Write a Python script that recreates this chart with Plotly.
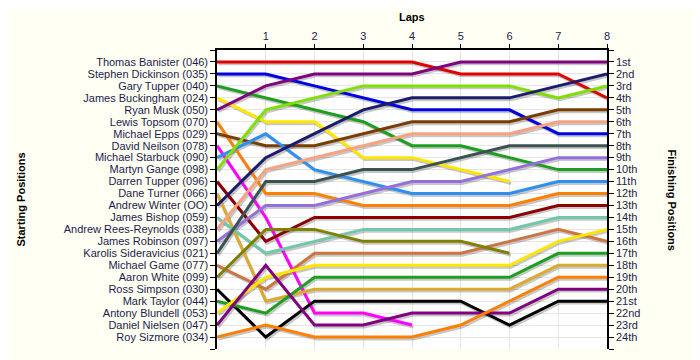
import plotly.graph_objects as go

laps = [0, 1, 2, 3, 4, 5, 6, 7, 8]

drivers = [
    "Thomas Banister (046)", "Stephen Dickinson (035)", "Gary Tupper (040)",
    "James Buckingham (024)", "Ryan Musk (050)", "Lewis Topsom (070)",
    "Michael Epps (029)", "David Neilson (078)", "Michael Starbuck (090)",
    "Martyn Gange (098)", "Darren Tupper (096)", "Dane Turner (066)",
    "Andrew Winter (OO)", "James Bishop (059)", "Andrew Rees-Reynolds (038)",
    "James Robinson (097)", "Karolis Sideravicius (021)", "Michael Game (077)",
    "Aaron White (099)", "Ross Simpson (030)", "Mark Taylor (044)",
    "Antony Blundell (053)", "Daniel Nielsen (047)", "Roy Sizmore (034)",
]

# position of each driver (in starting order) at the end of each lap
positions = [
    [1, 1, 1, 1, 1, 2, 2, 2, 4],
    [2, 2, 3, 4, 5, 5, 5, 7, 7],
    [3, 4, 5, 6, 8, 8, 9, 10, 10],
    [4, 6, 6, 9, 9, 10, 11],
    [5, 3, 2, 2, 2, 1, 1, 1, 1],
    [6, 12, 12, 13, 13, 13, 13, 12, 12],
    [7, 8, 8, 7, 6, 6, 6, 5, 5],
    [8, 14, 22, 22, 23],
    [9, 7, 10, 11, 12, 12, 12, 11, 11],
    [10, 5, 4, 3, 3, 3, 3, 4, 3],
    [11, 16, 14, 14, 14, 14, 14, 13, 13],
    [12, 21, 20, 20, 20, 20, 20, 18, 18],
    [13, 9, 7, 5, 4, 4, 4, 3, 2],
    [14, 17, 16, 15, 15, 15, 15, 14, 14],
    [15, 10, 9, 8, 7, 7, 7, 6, 6],
    [16, 13, 13, 12, 11, 11, 10, 9, 9],
    [17, 11, 11, 10, 10, 9, 8, 8, 8],
    [18, 20, 17, 17, 17, 17, 16, 15, 16],
    [19, 15, 15, 16, 16, 16, 17],
    [20, 24, 21, 21, 21, 21, 23, 21, 21],
    [21, 22, 19, 19, 19, 19, 19, 17, 17],
    [22, 19, 18, 18, 18, 18, 18, 16, 15],
    [23, 18, 23, 23, 22, 22, 22, 20, 20],
    [24, 23, 24, 24, 24, 23, 21, 19, 19],
]

colors = [
    "#e00000", "#0000e0", "#1e9e1e", "#ffe600", "#800080", "#ff8000",
    "#7a3d00", "#ff00ff", "#2e8ff0", "#80e000", "#8b0000", "#dcaa30",
    "#1c1c6a", "#70c8a8", "#f8a282", "#9370db", "#3a5252", "#cd7540",
    "#808000", "#000000", "#1e9e1e", "#ffe600", "#800080", "#ff8000",
]

finish_labels = ["1st", "2nd", "3rd"] + [f"{i}th" for i in range(4, 21)] + ["21st", "22nd", "23rd", "24th"]

font_family = "Liberation Sans, Arial, sans-serif"
tick_color = "#1c1c4c"

fig = go.Figure()

# drop shadows
for pos in positions:
    xs = [l + 0.03 for l in laps[:len(pos)]]
    ys = [p + 0.16 for p in pos]
    fig.add_trace(go.Scatter(x=xs, y=ys, mode="lines",
                             line=dict(color="rgba(0,0,0,0.22)", width=3),
                             hoverinfo="skip", showlegend=False))

for name, pos, c in zip(drivers, positions, colors):
    fig.add_trace(go.Scatter(x=laps[:len(pos)], y=pos, mode="lines", name=name,
                             line=dict(color=c, width=3), showlegend=False))

# helper trace for right axis
fig.add_trace(go.Scatter(x=[None], y=[None], yaxis="y2", showlegend=False, hoverinfo="skip"))

ytickvals = list(range(0, 26))
fig.update_layout(
    width=700, height=360,
    margin=dict(l=209, r=101, t=42, b=19),
    paper_bgcolor="#fffff4",
    plot_bgcolor="#ffffff",
    font=dict(family=font_family, size=11, color=tick_color),
    xaxis=dict(range=[0, 8], side="top", tickvals=laps[1:], ticktext=[str(l) for l in laps[1:]],
               showgrid=True, gridcolor="#e6e6e6", gridwidth=1, automargin=False,
               showline=True, linecolor="black", linewidth=1.5,
               ticks="outside", ticklen=4, tickcolor="black", zeroline=False,
               tickfont=dict(size=11, color=tick_color)),
    yaxis=dict(range=[25, 0], tickvals=ytickvals, ticktext=[""] + drivers + [""],
               showgrid=True, gridcolor="#e6e6e6", gridwidth=1, automargin=False,
               showline=True, linecolor="black", linewidth=1.5,
               ticks="outside", ticklen=5, tickcolor="black", zeroline=False,
               tickfont=dict(size=11, color=tick_color)),
    yaxis2=dict(range=[25, 0], overlaying="y", side="right", tickvals=ytickvals,
                ticktext=[""] + finish_labels + [""], showgrid=False, automargin=False,
                showline=True, linecolor="black", linewidth=1.5,
                ticks="outside", ticklen=5, tickcolor="black", zeroline=False,
                tickfont=dict(size=11, color=tick_color)),
    annotations=[
        dict(text="<b>Laps</b>", x=0.5, y=1, xref="paper", yref="paper", yshift=33,
             yanchor="middle", showarrow=False, font=dict(size=11, color="black")),
        dict(text="<b>Starting Positions</b>", x=0, y=0.5, xref="paper", yref="paper",
             xshift=-197, xanchor="center", textangle=-90, showarrow=False,
             font=dict(size=11, color="black")),
        dict(text="<b>Finishing Positions</b>", x=1, y=0.5, xref="paper", yref="paper",
             xshift=65, xanchor="center", textangle=90, showarrow=False,
             font=dict(size=11, color="black")),
    ],
)

fig.write_html("out.html")
